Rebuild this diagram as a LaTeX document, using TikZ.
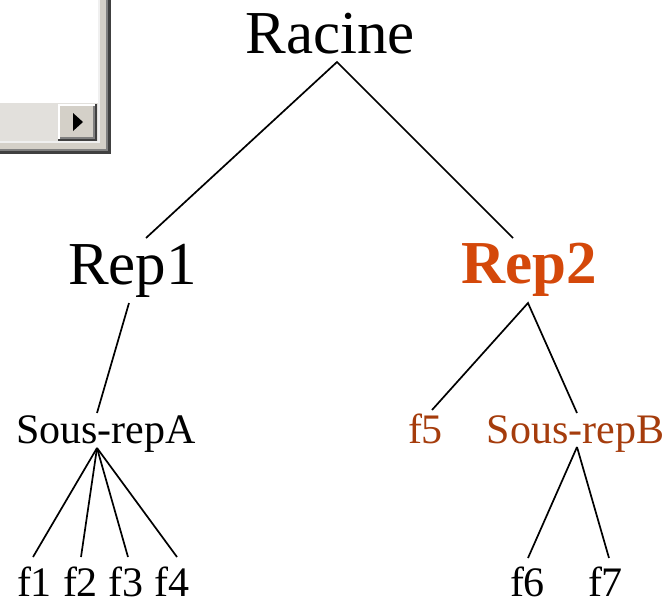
\documentclass[tikz,border=0pt]{standalone}
\usepackage{fontspec}
\setmainfont{Liberation Serif}
\definecolor{repred}{HTML}{D4480A}
\definecolor{repbrown}{HTML}{A53C0C}
\definecolor{winface}{HTML}{D4D0C8}
\definecolor{windark}{HTML}{404040}
\definecolor{winshade}{HTML}{808080}
\definecolor{wintrack}{HTML}{E2E0DC}
\begin{document}
\begin{tikzpicture}[x=1pt,y=-1pt,
  bigtext/.style={font=\fontsize{61}{72}\selectfont, inner sep=0pt, anchor=base},
  smalltext/.style={font=\fontsize{42}{50}\selectfont, inner sep=0pt, anchor=base},
  link/.style={draw=black, line width=1.7pt}]
\useasboundingbox (0,0) rectangle (667,600);
\fill[white] (0,0) rectangle (667,600);
% window fragment
\fill[windark] (0,0) rectangle (111,154);
\fill[winshade] (0,0) rectangle (108,151);
\fill[winface] (0,0) rectangle (106,149);
\fill[white!94!black] (0,0) rectangle (100,143);
\fill[white] (0,0) rectangle (98,103);
\fill[wintrack] (0,103) rectangle (98,141);
\fill[windark] (58,104) rectangle (97,141);
\fill[white] (58,104) rectangle (95,139);
\fill[winshade] (60,106) rectangle (95,139);
\fill[winface] (60,106) rectangle (93,137);
\fill[black] (73,113) -- (83,122) -- (73,131) -- cycle;
% nodes
\node[bigtext] (racine) at (330,53) {Racine};
\node[bigtext] (rep1) at (132.5,284) {Rep1};
\node[bigtext, text=repred, font=\fontsize{61}{72}\selectfont\bfseries] (rep2) at (529,283) {Rep2};
\node[smalltext] (sra) at (106,443) {Sous-repA};
\node[smalltext, text=repbrown] (f5) at (425.5,443) {f5};
\node[smalltext, text=repbrown] (srb) at (575.5,443) {Sous-repB};
\node[smalltext] (f1) at (34.5,596) {f1};
\node[smalltext] (f2) at (80.5,596) {f2};
\node[smalltext] (f3) at (126,596) {f3};
\node[smalltext] (f4) at (172,596) {f4};
\node[smalltext] (f6) at (527.5,596) {f6};
\node[smalltext] (f7) at (605.5,596) {f7};
% connectors
\draw[link] ([shift={(13.5,-46)}]rep1.base) -- ([shift={(7,9)}]racine.base) -- ([shift={(-16,-45)}]rep2.base);
\draw[link] ([shift={(-3.5,19)}]rep1.base) -- ([shift={(-9,-30)}]sra.base);
\draw[link] ([shift={(6.5,-33)}]f5.base) -- ([shift={(-1,20)}]rep2.base) -- ([shift={(1.5,-30)}]srb.base);
\draw[link] ([shift={(-9,5)}]sra.base) -- ([shift={(-1.5,-39)}]f1.base);
\draw[link] ([shift={(-9,5)}]sra.base) -- ([shift={(0.5,-39)}]f2.base);
\draw[link] ([shift={(-9,5)}]sra.base) -- ([shift={(2,-39)}]f3.base);
\draw[link] ([shift={(-9,5)}]sra.base) -- ([shift={(5,-39)}]f4.base);
\draw[link] ([shift={(1.5,4)}]srb.base) -- ([shift={(0.5,-38)}]f6.base);
\draw[link] ([shift={(1.5,4)}]srb.base) -- ([shift={(3.5,-38)}]f7.base);
\end{tikzpicture}
\end{document}
